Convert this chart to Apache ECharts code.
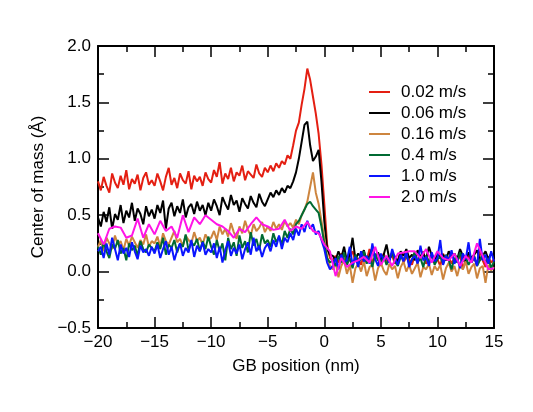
<!DOCTYPE html>
<html>
<head>
<meta charset="utf-8">
<script src="https://cdn.jsdelivr.net/npm/echarts@6/dist/echarts.min.js"></script>
<style>
  html, body { margin: 0; padding: 0; background: #fff; }
  #chart { width: 533px; height: 412px; }
</style>
</head>
<body>
<div id="chart"></div>
<script>
// positions along the GB (nm), dense runs
var xs = [
  -20,-19.75,-19.5,-19.25,-19,-18.75,-18.5,-18.25,-18,-17.75,-17.5,-17.25,-17,-16.75,-16.5,-16.25,-16,-15.75,-15.5,-15.25,
  -15,-14.75,-14.5,-14.25,-14,-13.75,-13.5,-13.25,-13,-12.75,-12.5,-12.25,-12,-11.75,-11.5,-11.25,-11,-10.75,-10.5,-10.25,
  -10,-9.75,-9.5,-9.25,-9,-8.75,-8.5,-8.25,-8,-7.75,-7.5,-7.25,-7,-6.75,-6.5,-6.25,-6,-5.75,-5.5,-5.25,
  -5,-4.75,-4.5,-4.25,-4,-3.75,-3.5,-3.25,-3,-2.75,-2.5,-2.25,-2,-1.75,-1.5,-1.25,-1,-0.75,-0.5,-0.25,0,0.25,0.5,
  0.75,1,1.25,1.5,1.75,2,2.25,2.5,2.75,3,3.25,3.5,3.75,4,4.25,4.5,4.75,5,5.25,5.5,5.75,6,6.25,6.5,6.75,7,7.25,7.5,7.75,
  8,8.25,8.5,8.75,9,9.25,9.5,9.75,10,10.25,10.5,10.75,11,11.25,11.5,11.75,12,12.25,12.5,12.75,13,13.25,13.5,13.75,14,14.25,14.5,14.75,15
]
// coarser positions for the 2.0 m/s run
var xsCoarse = [
  -20,-19.5,-19,-18.5,-18,-17.5,-17,-16.5,-16,-15.5,-15,-14.5,-14,-13.5,-13,-12.5,-12,-11.5,-11,-10.5,
  -10,-9.5,-9,-8.5,-8,-7.5,-7,-6.5,-6,-5.5,-5,-4.5,-4,-3.5,-3,-2.5,-2,-1.5,-1,-0.5,
  0,0.5,1,1.5,2,2.5,3,3.5,4,4.5,5,5.5,6,6.5,7,7.5,8,8.5,9,9.5,10,10.5,11,11.5,12,12.5,13,13.5,14,14.5,15
]

var v002 = [
  0.80,0.72,0.84,0.76,0.70,0.87,0.79,0.74,0.85,0.77,0.90,0.73,0.82,0.78,0.86,0.72,0.83,0.88,0.77,0.81,
  0.76,0.87,0.80,0.72,0.84,0.92,0.77,0.83,0.74,0.87,0.81,0.78,0.89,0.73,0.85,0.80,0.84,0.76,0.88,0.82,
  0.79,0.90,0.84,0.97,0.78,0.87,0.82,0.92,0.80,0.88,0.85,0.94,0.81,0.89,0.86,0.83,0.95,0.87,0.84,0.92,
  0.88,0.94,0.89,0.96,0.92,0.98,0.95,1.03,1.00,1.12,1.25,1.32,1.48,1.62,1.80,1.70,1.55,1.40,1.22,0.95,0.60,0.24,0.12,
  0.10,0.14,0.08,0.16,0.11,0.07,0.13,0.18,0.09,0.12,0.06,0.15,0.10,0.20,0.08,0.13,0.11,0.05,0.16,0.09,
  0.12,0.14,0.07,0.10,0.17,0.08,0.13,0.11,0.06,0.15,0.09,0.12,0.18,0.07,0.10,0.14,0.08,0.11,0.05,0.16,
  0.10,0.13,0.07,0.12,0.09,0.15,0.02,0.11,0.14,0.08,0.12,0.06,0.19,0.10,0.04,0.13,0.08,0.11
]
var v006 = [
  0.48,0.40,0.53,0.44,0.57,0.38,0.51,0.46,0.59,0.43,0.54,0.48,0.61,0.45,0.56,0.51,0.42,0.58,0.49,0.55,
  0.47,0.59,0.52,0.63,0.38,0.56,0.61,0.49,0.58,0.52,0.64,0.48,0.57,0.60,0.51,0.62,0.54,0.59,0.50,0.61,
  0.54,0.64,0.58,0.50,0.66,0.60,0.55,0.68,0.59,0.63,0.53,0.65,0.60,0.56,0.67,0.61,0.57,0.69,0.62,0.58,
  0.64,0.70,0.66,0.72,0.68,0.74,0.70,0.76,0.74,0.80,0.88,1.00,1.15,1.30,1.33,1.12,0.98,1.02,1.08,0.80,0.45,0.20,0.15,
  0.14,0.10,0.18,0.12,0.22,0.09,0.15,0.30,0.11,0.16,0.13,0.19,0.08,0.14,0.21,0.12,0.17,0.10,0.15,0.24,
  0.11,0.16,0.13,0.09,0.18,0.14,0.20,0.12,0.15,0.10,0.19,0.13,0.16,0.11,0.22,0.14,0.09,0.17,0.12,0.15,
  0.10,0.18,0.13,0.16,0.11,0.20,0.14,0.09,0.17,0.12,0.15,0.19,0.10,0.14,0.18,0.11,0.16,0.13
]
var v016 = [
  0.22,0.28,0.18,0.30,0.25,0.20,0.32,0.24,0.27,0.19,0.29,0.23,0.31,0.26,0.21,0.28,0.24,0.33,0.22,0.27,
  0.25,0.31,0.22,0.34,0.27,0.24,0.30,0.36,0.26,0.29,0.23,0.32,0.28,0.25,0.35,0.27,0.30,0.24,0.33,0.28,
  0.30,0.36,0.28,0.40,0.33,0.38,0.31,0.43,0.35,0.29,0.40,0.34,0.45,0.37,0.32,0.42,0.36,0.39,0.44,0.35,
  0.40,0.36,0.44,0.38,0.42,0.37,0.45,0.40,0.43,0.39,0.46,0.42,0.50,0.55,0.62,0.75,0.88,0.70,0.60,0.45,0.30,0.12,0.05,
  0.02,0.08,-0.05,0.05,0.10,-0.02,0.06,-0.10,0.03,0.07,0.00,0.09,-0.04,0.04,0.06,-0.08,0.03,0.08,0.01,-0.03,
  0.07,0.02,0.05,-0.06,0.04,0.09,0.00,0.06,-0.02,0.03,0.08,-0.05,0.04,0.02,0.07,-0.03,0.05,0.01,0.06,-0.07,
  0.03,0.08,0.00,0.05,-0.04,0.06,0.02,0.09,-0.02,0.04,0.07,-0.06,0.03,0.05,-0.10,0.06,0.01,0.04
]
var v04 = [
  0.22,0.15,0.26,0.18,0.12,0.24,0.20,0.28,0.16,0.21,0.10,0.25,0.19,0.23,0.14,0.27,0.20,0.17,0.24,0.21,
  0.18,0.26,0.20,0.30,0.15,0.24,0.21,0.28,0.17,0.25,0.22,0.33,0.19,0.26,0.23,0.29,0.18,0.27,0.20,0.31,
  0.22,0.15,0.28,0.18,0.25,0.10,0.30,0.20,0.26,0.14,0.32,0.21,0.27,0.17,0.35,0.23,0.29,0.19,0.33,0.25,
  0.28,0.22,0.34,0.26,0.31,0.24,0.36,0.30,0.38,0.33,0.42,0.45,0.50,0.55,0.60,0.62,0.58,0.55,0.52,0.40,0.25,0.12,0.08,
  0.10,0.05,0.14,0.08,0.17,0.06,0.12,0.03,0.15,0.09,0.11,0.18,0.07,0.13,0.04,0.16,0.10,0.08,0.14,0.06,
  0.12,0.17,0.09,0.05,0.13,0.11,0.15,0.07,0.10,0.18,0.08,0.12,0.04,0.14,0.09,0.16,0.06,0.11,0.13,0.07,
  0.15,0.10,0.02,0.12,0.08,0.17,0.09,0.13,0.06,0.11,0.14,0.05,0.10,0.16,0.08,0.12,0.03,0.09
]
var v10 = [
  0.18,0.22,0.12,0.25,0.15,0.30,0.20,0.10,0.24,0.16,0.21,0.13,0.26,0.18,0.11,0.23,0.17,0.20,0.14,0.22,
  0.16,0.24,0.12,0.20,0.27,0.15,0.22,0.10,0.19,0.25,0.14,0.21,0.17,0.28,0.13,0.23,0.18,0.26,0.15,0.20,
  0.17,0.25,0.12,0.22,0.08,0.19,0.27,0.14,0.21,0.16,0.24,0.11,0.20,0.26,0.15,0.30,0.18,0.23,0.13,0.21,
  0.25,0.18,0.28,0.22,0.32,0.20,0.30,0.26,0.34,0.28,0.38,0.32,0.42,0.35,0.45,0.38,0.42,0.33,0.36,0.28,0.20,0.08,0.02,
  0.05,0.12,0.02,0.15,0.08,0.10,0.22,0.06,0.13,0.04,0.18,0.09,0.14,0.07,0.25,0.11,0.05,0.16,0.10,0.13,
  0.08,0.20,0.12,0.06,0.15,0.09,0.18,0.04,0.11,0.14,0.07,0.23,0.10,0.13,0.05,0.17,0.09,0.12,0.28,0.06,
  0.14,0.10,0.19,0.07,0.12,0.03,0.16,0.11,0.26,0.08,0.13,0.05,0.29,0.10,0.15,0.07,0.18,0.09
]
var v20 = [
  0.34,0.24,0.38,0.40,0.39,0.30,0.32,0.47,0.30,0.42,0.33,0.45,0.36,0.40,0.30,0.50,0.35,0.48,0.42,0.50,
  0.46,0.42,0.40,0.36,0.30,0.38,0.35,0.42,0.48,0.42,0.40,0.37,0.38,0.46,0.36,0.40,0.38,0.44,0.36,0.34,
  0.24,0.18,-0.04,0.12,0.04,0.08,0.10,0.13,0.08,0.22,0.06,0.14,0.05,0.16,0.17,0.18,0.18,0.12,0.20,0.08,
  0.18,0.12,0.10,0.16,0.05,0.14,0.08,0.25,0.14,0.02,0.03
]

var names = ['0.02 m/s', '0.06 m/s', '0.16 m/s', '0.4 m/s', '1.0 m/s', '2.0 m/s']
var colors = ['#e41f12', '#000000', '#cd853f', '#006a32', '#0a14ff', '#ff14e6']

function pairs(x, y) {
  return x.map(function (v, i) { return [v, y[i]] })
}
var runs = [pairs(xs, v002), pairs(xs, v006), pairs(xs, v016), pairs(xs, v04), pairs(xs, v10), pairs(xsCoarse, v20)]

var font = 'Liberation Sans, Arial, Helvetica, sans-serif'
function minus(s) { return String(s).replace('-', '\u2212') }

function frameAxis(pos, showLabel, extra) {
  var ax = {
    type: 'value',
    position: pos,
    splitLine: { show: false },
    axisLine: { show: true, onZero: false, lineStyle: { color: '#000', width: 2 } },
    axisTick: { show: true, inside: true, length: 11, lineStyle: { color: '#000', width: 1.5 } },
    minorTick: { show: true, splitNumber: 2, length: 6, lineStyle: { color: '#000', width: 1.5 } },
    axisLabel: { show: showLabel, color: '#000', fontSize: 17, fontFamily: font }
  }
  return Object.assign(ax, extra)
}

var myChart = echarts.init(document.getElementById('chart'))
var option = {
  animation: false,
  backgroundColor: '#fff',
  grid: { left: 98, right: 39, top: 46, bottom: 84 },
  legend: {
    data: names,
    orient: 'vertical',
    left: 364,
    top: 78,
    icon: 'rect',
    itemWidth: 21,
    itemHeight: 2,
    itemGap: 3,
    textStyle: { color: '#000', fontSize: 17, fontFamily: font, lineHeight: 18, padding: [0, 0, 0, 6] }
  },
  xAxis: [
    frameAxis('bottom', true, {
      min: -20, max: 15, interval: 5,
      name: 'GB position (nm)', nameLocation: 'middle', nameGap: 30,
      nameTextStyle: { color: '#000', fontSize: 17, fontFamily: font },
      axisLabel: { show: true, color: '#000', fontSize: 17, fontFamily: font, margin: 6, formatter: minus }
    }),
    frameAxis('top', false, { min: -20, max: 15, interval: 5 })
  ],
  yAxis: [
    frameAxis('left', true, {
      min: -0.5, max: 2, interval: 0.5,
      name: 'Center of mass (\u00c5)', nameLocation: 'middle', nameGap: 48,
      nameTextStyle: { color: '#000', fontSize: 17, fontFamily: font },
      axisLabel: {
        show: true, color: '#000', fontSize: 17, fontFamily: font, margin: 7,
        formatter: function (v) { return minus(v.toFixed(1)) }
      }
    }),
    frameAxis('right', false, { min: -0.5, max: 2, interval: 0.5 })
  ],
  series: runs.map(function (d, i) {
    return {
      name: names[i],
      type: 'line',
      data: d,
      symbol: 'none',
      showSymbol: false,
      color: colors[i],
      lineStyle: { color: colors[i], width: 2 },
      z: 2 + i
    }
  })
}
myChart.setOption(option)
</script>
</body>
</html>
